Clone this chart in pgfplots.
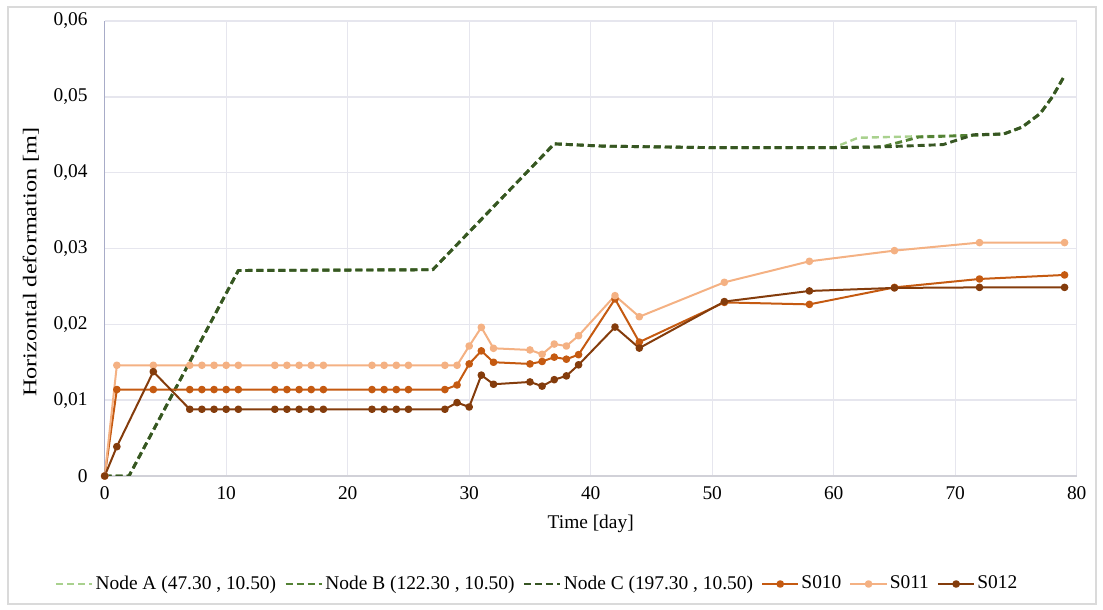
\documentclass[border=0pt]{standalone}
\usepackage{fontspec}
\setmainfont{Liberation Serif}
\usepackage{pgfplots}
\pgfplotsset{compat=1.18}
\usepackage{pgfplotstable}

\definecolor{nodeA}{HTML}{A9D18E}
\definecolor{nodeB}{HTML}{548235}
\definecolor{nodeC}{HTML}{375623}
\definecolor{sA}{HTML}{C55A11}
\definecolor{sB}{HTML}{F4B183}
\definecolor{sC}{HTML}{843C0C}
\definecolor{gridc}{HTML}{E6E6EE}
\definecolor{yaxc}{HTML}{A8ACC8}
\definecolor{framec}{HTML}{DADADA}

% S010 / S011 / S012 readings
\pgfplotstableread{
day  s010     s011     s012
0    0        0        0
1    0.0114   0.0146   0.00387
4    0.0114   0.0146   0.01376
7    0.0114   0.0146   0.0088
8    0.0114   0.0146   0.0088
9    0.0114   0.0146   0.0088
10   0.0114   0.0146   0.0088
11   0.0114   0.0146   0.0088
14   0.0114   0.0146   0.0088
15   0.0114   0.0146   0.0088
16   0.0114   0.0146   0.0088
17   0.0114   0.0146   0.0088
18   0.0114   0.0146   0.0088
22   0.0114   0.0146   0.0088
23   0.0114   0.0146   0.0088
24   0.0114   0.0146   0.0088
25   0.0114   0.0146   0.0088
28   0.0114   0.0146   0.0088
29   0.0120   0.0146   0.00968
30   0.01478  0.01714  0.0091
31   0.0165   0.0196   0.0133
32   0.0150   0.01684  0.0121
35   0.01478  0.01662  0.0124
36   0.0151   0.01605  0.01185
37   0.01567  0.0174   0.0127
38   0.0154   0.01714  0.0132
39   0.0160   0.0185   0.01466
42   0.02334  0.02378  0.01964
44   0.01766  0.0210   0.01687
51   0.02289  0.02554  0.0230
58   0.02263  0.02831  0.0244
65   0.02487  0.02972  0.0248
72   0.02598  0.03078  0.02487
79   0.02651  0.03078  0.02487
}\sdata

\begin{document}
\begin{tikzpicture}[font=\fontsize{9.7pt}{11.5pt}\selectfont]
\draw[framec, line width=0.6pt] (4pt,3pt) rectangle (548pt,301.5pt);
\begin{axis}[
  at={(52.35pt,67pt)}, anchor=south west,
  scale only axis, width=486pt, height=227.5pt,
  xmin=0, xmax=80, ymin=0, ymax=0.06,
  xtick={0,10,...,80},
  ytick={0,0.01,0.02,0.03,0.04,0.05,0.06},
  yticklabels={0,{0,01},{0,02},{0,03},{0,04},{0,05},{0,06}},
  scaled y ticks=false,
  /pgf/number format/assume math mode=true,
  major tick length=0pt,
  axis lines*=left,
  x axis line style={draw=gridc!80!gray, line width=0.8pt},
  y axis line style={draw=yaxc, line width=0.8pt},
  grid=major, major grid style={draw=gridc, line width=0.7pt},
  xticklabel style={yshift=-1.8pt},
  yticklabel style={xshift=-5pt},
  xlabel={Time [day]},
  ylabel={Horizontal deformation [m]},
  xlabel style={at={(axis description cs:0.5,-0.1055)}, anchor=center},
  ylabel style={at={(axis description cs:-0.0761,0.47)}, anchor=center, xscale=1.25},
  legend columns=-1,
  legend style={draw=none, fill=none, at={(0.4448,-0.2374)}, anchor=center,
    /tikz/every even column/.append style={column sep=3pt},
    nodes={inner sep=1pt}},
  legend image code/.code={
    \draw[mark repeat=2,mark phase=2] plot coordinates {(0cm,0cm) (0.32cm,0cm) (0.64cm,0cm)};},
  every axis plot/.append style={line join=round},
]
\addplot[nodeA, line width=1.2pt, dash pattern=on 3.5pt off 2pt] coordinates {
  (0,0) (2,0) (11,0.0271) (27,0.0272) (37,0.0438) (41,0.0435) (50,0.0433)
  (60,0.0433) (62,0.0446) (67,0.0448) (71,0.0449) (74,0.0451) (75.5,0.0460)
  (77,0.0478) (78,0.0500) (79,0.0528)};
\addlegendentry{Node A (47.30 , 10.50)}
\addplot[nodeB, line width=1.45pt, dash pattern=on 3.5pt off 2pt] coordinates {
  (0,0) (2,0) (11,0.0271) (27,0.0272) (37,0.0438) (41,0.0435) (50,0.0433)
  (60,0.0433) (64,0.0434) (67,0.0447) (71,0.0449) (74,0.0451) (75.5,0.0460)
  (77,0.0478) (78,0.0500) (79,0.0528)};
\addlegendentry{Node B (122.30 , 10.50)}
\addplot[nodeC, line width=1.45pt, dash pattern=on 3.5pt off 2pt] coordinates {
  (0,0) (2,0) (11,0.0271) (27,0.0272) (37,0.0438) (41,0.0435) (50,0.0433)
  (60,0.0433) (64,0.0434) (69,0.0437) (71.5,0.0450) (74,0.0451) (75.5,0.0460)
  (77,0.0478) (78,0.0500) (79,0.0528)};
\addlegendentry{Node C (197.30 , 10.50)}
\addplot[sA, line width=1pt, mark=*, mark size=1.4pt] table[x=day, y=s010] {\sdata};
\addlegendentry{S010}
\addplot[sB, line width=1pt, mark=*, mark size=1.4pt] table[x=day, y=s011] {\sdata};
\addlegendentry{S011}
\addplot[sC, line width=1pt, mark=*, mark size=1.4pt] table[x=day, y=s012] {\sdata};
\addlegendentry{S012}
\end{axis}
\pgfresetboundingbox
\useasboundingbox (0,0) rectangle (551.5pt,305pt);
\end{tikzpicture}
\end{document}
